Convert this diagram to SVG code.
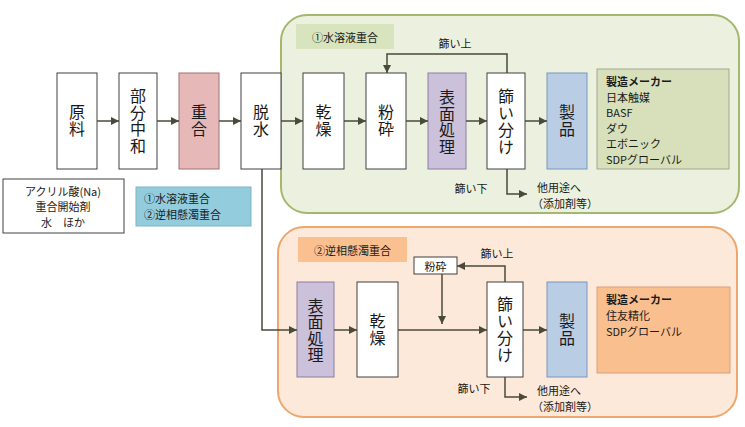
<svg xmlns="http://www.w3.org/2000/svg" width="745" height="427" viewBox="0 0 745 427">
<defs>
<marker id="ah" viewBox="0 0 10 10" refX="10" refY="5" markerWidth="8" markerHeight="8" markerUnits="userSpaceOnUse" orient="auto">
<path d="M0,0 L10,5 L0,10 z" fill="#4a4a3a"/>
</marker>
<style>
text{font-family:"Noto Sans CJK JP","Noto Sans",sans-serif;fill:#1a1a1a;}
.big{font-size:16px;text-anchor:middle;writing-mode:vertical-rl;letter-spacing:1px;}
.four{letter-spacing:0.5px;}
.sm{font-size:11px;dominant-baseline:central;}
.mid{text-anchor:middle;}
.b{font-weight:bold;}
.box{fill:#fff;stroke:#404040;stroke-width:1;}
.pink{fill:#e6b9b8;stroke:#a07070;stroke-width:1;}
.purp{fill:#ccc1da;stroke:#8a7ea3;stroke-width:1;}
.blue{fill:#b9cde5;stroke:#7a96bf;stroke-width:1;}
.conn path{fill:none;stroke:#4a4a3a;stroke-width:1.5;}
</style>
</defs>
<rect width="745" height="427" fill="#fff"/>
<g id="panel1">
<rect x="281" y="15" width="458" height="198" rx="26" fill="#ebf1de" stroke="#a3b86c" stroke-width="2"/>
<rect x="296" y="24" width="98" height="25" fill="#d7e4bd"/>
<text class="sm" x="345" y="36.5" text-anchor="middle" font-size="12">①水溶液重合</text>
</g>
<g id="panel2">
<rect x="278" y="227" width="459" height="190" rx="26" fill="#fde9d9" stroke="#eda76c" stroke-width="2"/>
<rect x="298" y="237" width="109" height="25" fill="#fac090"/>
<text class="sm" x="352.5" y="249.5" text-anchor="middle" font-size="12">②逆相懸濁重合</text>
</g>
<g id="materials">
<rect x="3" y="179" width="121" height="54" class="box"/>
<text class="sm mid" x="63" y="190.5" font-size="10.5">アクリル酸(Na)</text>
<text class="sm mid" x="63" y="206" font-size="10.5">重合開始剤</text>
<text class="sm mid" x="63" y="221.5" font-size="10.5">水　ほか</text>
</g>
<g id="methods">
<rect x="136" y="187" width="115" height="39" fill="#93cddd" stroke="#7db3c4"/>
<text class="sm" x="144" y="198" font-size="11.5">①水溶液重合</text>
<text class="sm" x="144" y="214" font-size="11.5">②逆相懸濁重合</text>
</g>
<g id="genryo"><rect x="57" y="73" width="40" height="96" class="box"/>
<text class="big" x="77" y="121">原料</text></g>
<g id="bubunchuwa"><rect x="119" y="73" width="38" height="96" class="box"/>
<text class="big four" x="138" y="121">部分中和</text></g>
<g id="jugo"><rect x="179" y="73" width="40" height="96" class="pink"/>
<text class="big" x="199" y="121">重合</text></g>
<g id="dassui"><rect x="241" y="73" width="40" height="96" class="box"/>
<text class="big" x="261" y="121">脱水</text></g>
<g id="kanso1"><rect x="303" y="73" width="41" height="96" class="box"/>
<text class="big" x="323.5" y="121">乾燥</text></g>
<g id="funsai1"><rect x="366" y="73" width="40" height="96" class="box"/>
<text class="big" x="386" y="121">粉砕</text></g>
<g id="hyomen1"><rect x="428" y="73" width="38" height="96" class="purp"/>
<text class="big four" x="447" y="122">表面処理</text></g>
<g id="furui1"><rect x="487" y="73" width="38" height="96" class="box"/>
<text class="big" x="506" y="121.5" letter-spacing="-1">篩い分け</text></g>
<g id="seihin1"><rect x="547" y="73" width="40" height="96" class="blue"/>
<text class="big" x="567" y="121">製品</text></g>
<g id="maker1">
<rect x="597" y="69" width="132" height="100" fill="#d7e0bb" stroke="#a6a68f"/>
<text class="sm b" x="606" y="81">製造メーカー</text>
<text class="sm" x="606" y="96.5">日本触媒</text>
<text class="sm" x="606" y="112">BASF</text>
<text class="sm" x="606" y="127.5">ダウ</text>
<text class="sm" x="606" y="143">エボニック</text>
<text class="sm" x="606" y="158.5">SDPグローバル</text>
</g>
<g id="hyomen2"><rect x="297" y="282" width="37" height="95" class="purp"/>
<text class="big four" x="315.5" y="330.5">表面処理</text></g>
<g id="kanso2"><rect x="357" y="282" width="41" height="95" class="box"/>
<text class="big" x="377.5" y="329.5">乾燥</text></g>
<g id="funsai2"><rect x="414" y="257" width="43" height="17" class="box"/>
<text class="sm mid" x="435.5" y="265.5">粉砕</text></g>
<g id="furui2"><rect x="487" y="282" width="36" height="95" class="box"/>
<text class="big" x="505" y="329.5" letter-spacing="-1">篩い分け</text></g>
<g id="seihin2"><rect x="547" y="282" width="40" height="95" class="blue"/>
<text class="big" x="567" y="329.5">製品</text></g>
<g id="maker2">
<rect x="597" y="287" width="133" height="86" fill="#fabf8f" stroke="#d9a07a"/>
<text class="sm b" x="606" y="299">製造メーカー</text>
<text class="sm" x="606" y="315">住友精化</text>
<text class="sm" x="606" y="330.5">SDPグローバル</text>
</g>
<g id="connectors" class="conn">
<path d="M97 121 H119" marker-end="url(#ah)"/>
<path d="M157 121 H179" marker-end="url(#ah)"/>
<path d="M219 121 H241" marker-end="url(#ah)"/>
<path d="M281 121 H303" marker-end="url(#ah)"/>
<path d="M344 121 H366" marker-end="url(#ah)"/>
<path d="M406 121 H428" marker-end="url(#ah)"/>
<path d="M466 121 H487" marker-end="url(#ah)"/>
<path d="M525 121 H547" marker-end="url(#ah)"/>
<path d="M507 73 V54 H387 V73" marker-end="url(#ah)"/>
<path d="M507 169 V194 H527" marker-end="url(#ah)"/>
<path d="M262 169 V330 H297" marker-end="url(#ah)"/>
<path d="M334 330 H357" marker-end="url(#ah)"/>
<path d="M398 330 H487" marker-end="url(#ah)"/>
<path d="M442 274 V324" marker-end="url(#ah)"/>
<path d="M505 282 V266 H457" marker-end="url(#ah)"/>
<path d="M505 377 V397 H527" marker-end="url(#ah)"/>
<path d="M523 330 H547" marker-end="url(#ah)"/>
</g>
<g id="labels">
<text class="sm mid" x="455" y="43">篩い上</text>
<text class="sm mid" x="471" y="188">篩い下</text>
<text class="sm" x="537" y="187">他用途へ</text>
<text class="sm" x="532" y="203">（添加剤等）</text>
<text class="sm mid" x="497" y="253">篩い上</text>
<text class="sm mid" x="474" y="388">篩い下</text>
<text class="sm" x="537" y="389.5">他用途へ</text>
<text class="sm" x="532" y="405.5">（添加剤等）</text>
</g>
</svg>
